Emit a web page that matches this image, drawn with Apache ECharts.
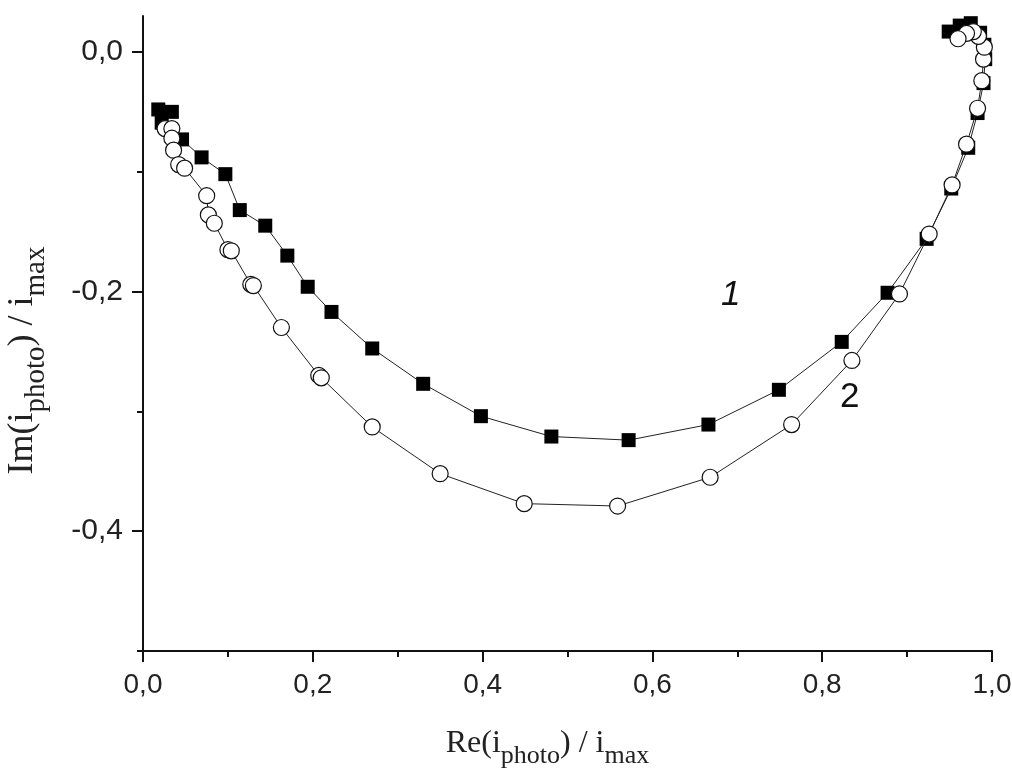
<!DOCTYPE html>
<html>
<head>
<meta charset="utf-8">
<script src="https://cdn.jsdelivr.net/npm/echarts@6/dist/echarts.min.js"></script>
<style>
  html, body { margin: 0; padding: 0; background: #fff; }
  #chart { width: 1012px; height: 774px; }
</style>
</head>
<body>
<div id="chart"></div>
<script>
// curve 1 (filled squares): [Re, Im]
var curve1 = [
  [0.018, -0.048], [0.034, -0.050], [0.022, -0.059], [0.046, -0.073], [0.069, -0.088],
  [0.097, -0.102], [0.114, -0.132], [0.144, -0.145], [0.170, -0.170], [0.194, -0.196],
  [0.222, -0.217], [0.270, -0.2475], [0.330, -0.277], [0.398, -0.304], [0.481, -0.321],
  [0.572, -0.324], [0.666, -0.311], [0.749, -0.282], [0.823, -0.242], [0.877, -0.201],
  [0.923, -0.156], [0.952, -0.114], [0.972, -0.080], [0.983, -0.051], [0.990, -0.026],
  [0.992, -0.006], [0.991, 0.006], [0.986, 0.016], [0.975, 0.024], [0.962, 0.022],
  [0.949, 0.017]
];
// curve 2 (open circles)
var curve2 = [
  [0.026, -0.064], [0.034, -0.064], [0.034, -0.072], [0.036, -0.082], [0.042, -0.094],
  [0.049, -0.097], [0.075, -0.120], [0.077, -0.136], [0.084, -0.143], [0.100, -0.165],
  [0.104, -0.166], [0.127, -0.194], [0.130, -0.195], [0.163, -0.230], [0.207, -0.270],
  [0.210, -0.272], [0.270, -0.313], [0.350, -0.352], [0.449, -0.377], [0.559, -0.379],
  [0.668, -0.355], [0.764, -0.311], [0.835, -0.2575], [0.891, -0.202], [0.926, -0.152],
  [0.953, -0.111], [0.970, -0.077], [0.983, -0.047], [0.988, -0.024], [0.990, -0.006],
  [0.991, 0.004], [0.984, 0.013], [0.978, 0.017], [0.970, 0.0155], [0.960, 0.011]
];
var yMajor = [0, -0.2, -0.4];
var yMinor = [-0.1, -0.3, -0.5];
var curveNames = ['1', '2'];

var chart = echarts.init(document.getElementById('chart'));

var sansFont = '"Liberation Sans", Arial, sans-serif';
var serifFont = '"Liberation Serif", "Times New Roman", serif';
var axisColor = '#111';

function fmt(v) {
  return v.toFixed(1).replace('.', ',');
}

// axis titles with subscripts
var xTitleRich = {
  m: { fontFamily: serifFont, fontSize: 32, color: '#222', verticalAlign: 'bottom', lineHeight: 42, padding: [0, 0, 9, 0] },
  s: { fontFamily: serifFont, fontSize: 26, color: '#222', verticalAlign: 'bottom', lineHeight: 42 }
};
var yTitleRich = {
  m: { fontFamily: serifFont, fontSize: 36, color: '#222', verticalAlign: 'bottom', lineHeight: 46, padding: [0, 0, 10, 0] },
  s: { fontFamily: serifFont, fontSize: 29, color: '#222', verticalAlign: 'bottom', lineHeight: 46 }
};

chart.setOption({
  animation: false,
  backgroundColor: '#fff',
  grid: { left: 143, right: 20, top: 16, bottom: 123, outerBoundsMode: 'none' },
  xAxis: {
    type: 'value',
    min: 0,
    max: 1,
    interval: 0.2,
    splitLine: { show: false },
    axisLine: { onZero: false, lineStyle: { color: axisColor, width: 2 } },
    axisTick: { inside: false, length: 11, lineStyle: { color: axisColor, width: 2 } },
    minorTick: { show: true, splitNumber: 2, length: 6, lineStyle: { color: axisColor, width: 2 } },
    minorSplitLine: { show: false },
    axisLabel: { margin: 20, fontFamily: sansFont, fontSize: 28, color: '#222', formatter: fmt },
    name: '{m|Re(i}{s|photo}{m|) / i}{s|max}',
    nameLocation: 'middle',
    nameGap: 76,
    nameTextStyle: { rich: xTitleRich, padding: [0, 40, 0, 0] }
  },
  yAxis: [{
    type: 'value',
    min: -0.5,
    max: 0.03,
    interval: 0.1,
    splitLine: { show: false },
    axisLine: { onZero: false, lineStyle: { color: axisColor, width: 2 } },
    axisTick: { inside: false, length: 11, customValues: yMajor, lineStyle: { color: axisColor, width: 2 } },
    axisLabel: { margin: 20, fontFamily: sansFont, fontSize: 30, color: '#222', customValues: yMajor, formatter: fmt },
    name: '{m|Im(i}{s|photo}{m|) / i}{s|max}',
    nameLocation: 'middle',
    nameRotate: 90,
    nameGap: 92,
    nameTextStyle: { rich: yTitleRich, padding: [0, 54, 0, 0] }
  }, {
    type: 'value',
    position: 'left',
    min: -0.5,
    max: 0.03,
    interval: 0.1,
    splitLine: { show: false },
    axisLine: { show: false },
    axisTick: { inside: false, length: 6, customValues: yMinor, lineStyle: { color: axisColor, width: 2 } },
    axisLabel: { show: false }
  }],
  series: [{
    name: curveNames[0],
    type: 'line',
    data: curve1,
    symbol: 'rect',
    symbolSize: 14,
    itemStyle: { color: '#000' },
    lineStyle: { color: '#222', width: 1 },
    z: 2
  }, {
    name: curveNames[1],
    type: 'line',
    data: curve2,
    symbol: 'circle',
    symbolSize: 16,
    itemStyle: { color: '#fff', borderColor: '#111', borderWidth: 1.2 },
    lineStyle: { color: '#222', width: 1 },
    z: 3
  }],
  graphic: [{
    type: 'text',
    left: 721,
    top: 278,
    style: { text: curveNames[0], fontFamily: sansFont, fontStyle: 'italic', fontSize: 35, fill: '#111' }
  }, {
    type: 'text',
    left: 840,
    top: 380,
    style: { text: curveNames[1], fontFamily: sansFont, fontSize: 35, fill: '#111' }
  }]
});
</script>
</body>
</html>
